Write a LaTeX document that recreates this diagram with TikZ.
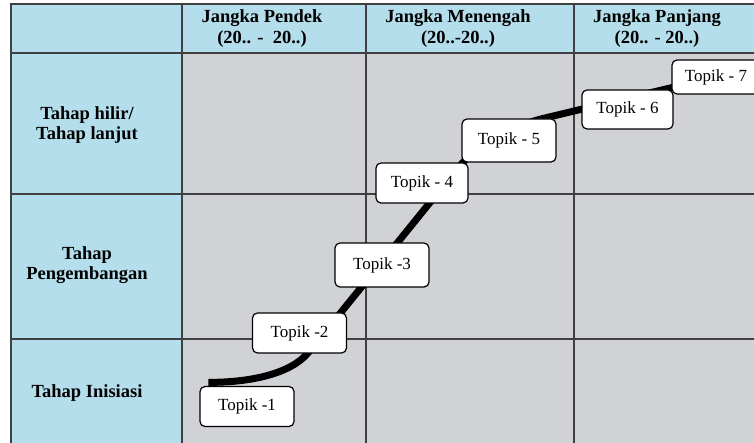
\documentclass[tikz,border=0pt]{standalone}
\usepackage{fontspec}
\setmainfont{Liberation Serif}
\usetikzlibrary{calc,backgrounds}

\definecolor{hdrblue}{RGB}{180,222,235}
\definecolor{cellgray}{RGB}{209,210,213}
\definecolor{gridcol}{RGB}{64,64,64}

\begin{document}
\begin{tikzpicture}[x=1pt, y=1pt,
    topik/.style={draw=black, line width=1.2pt, fill=white, rounded corners=5pt,
        minimum width=94pt, minimum height=40pt, inner sep=0pt,
        font=\fontsize{17}{19}\selectfont},
    headtext/.style={align=center, font=\fontsize{18.5}{20.5}\selectfont\bfseries},
    gridln/.style={draw=gridcol, line width=1.2pt},
    trend/.style={line width=7pt, black}]

    \useasboundingbox (0,0) rectangle (754,443);

    % column heads
    \node[headtext] (h1) at (262,414.5) {Jangka Pendek\\(20.. -\ \ 20..)};
    \node[headtext] (h2) at (458,414.5) {Jangka Menengah\\(20..-20..)};
    \node[headtext] (h3) at (657,414.5) {Jangka Panjang\\(20.. - 20..)};

    % row heads
    \node[headtext] (r1) at (87,318) {Tahap hilir/\\Tahap lanjut};
    \node[headtext] (r2) at (87,178) {Tahap\\Pengembangan};
    \node[headtext] (r3) at (87,50) {Tahap Inisiasi};

    % topics
    \node[topik] (t1) at (247,36.5) {Topik -1};
    \node[topik] (t2) at (299.5,110) {Topik -2};
    \node[topik, minimum height=44pt] (t3) at (382,178) {Topik -3};
    \node[topik, minimum width=92pt] (t4) at (422,260) {Topik - 4};
    \node[topik, minimum height=43pt] (t5) at (509,302.5) {Topik - 5};
    \node[topik, minimum width=91pt, minimum height=39pt] (t6) at (627.5,333.5) {Topik - 6};
    \node[topik, minimum width=88pt, minimum height=34pt] (t7) at (716,366) {Topik - 7};

    \begin{scope}[on background layer]
        \clip (0,0) rectangle (754,443);

        % cells
        \fill[hdrblue] (11,390) rectangle (760,439);
        \fill[hdrblue] (11,-5) rectangle (182,390);
        \fill[cellgray] (182,-5) rectangle (760,390);

        % grid
        \foreach \y in {390,249,104}
            \draw[gridln] (11,\y) -- (760,\y);
        \foreach \x in {182,366,574}
            \draw[gridln] (\x,439) -- (\x,-5);
        \draw[gridln, line width=1.6pt] (760,439) -- (11,439) -- (11,-5);

        % roadmap line
        \coordinate (start) at ($(t1.north west)+(9,3.5)$);
        \coordinate (b1) at (308,90);
        \coordinate (b2) at (458,275);
        \coordinate (b3) at (545,325);
        \draw[trend] (start) .. controls +(42,0) and +(-18,-21) .. (b1) -- (b2)
            .. controls +(20,25) and +(-30,-7) .. (b3) -- (t7.center);
    \end{scope}

\end{tikzpicture}
\end{document}
